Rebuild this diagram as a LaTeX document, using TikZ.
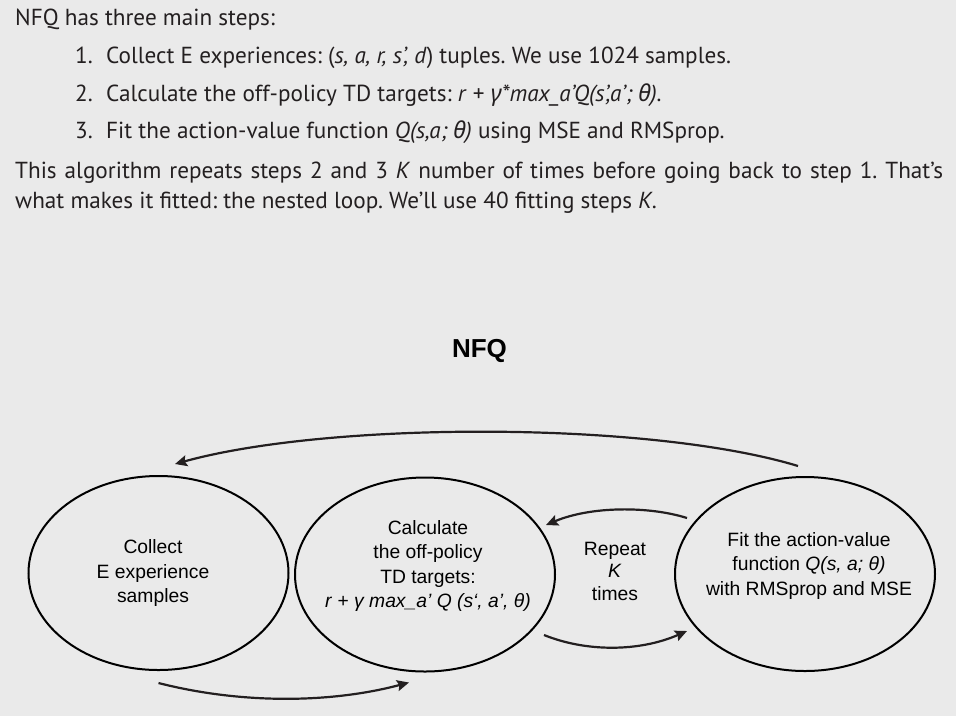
\documentclass[tikz,border=0pt]{standalone}
\usepackage{fontspec}
\setmainfont{PT Sans}
\newfontfamily\arial{Liberation Sans}
\newfontfamily\grk{Noto Sans}
\usetikzlibrary{arrows.meta,calc,shapes.geometric}
\definecolor{bg}{HTML}{EAEAEA}
\definecolor{ink}{HTML}{231F20}
\frenchspacing
\begin{document}
\begin{tikzpicture}[x=1pt,y=-1pt,
  stage/.style={draw=black, line width=2pt, ellipse, minimum width=260pt, minimum height=194pt, inner sep=0pt},
  dtext/.style={font=\arial\fontsize{19.3}{24.5}\selectfont, align=center, text=black, inner sep=0pt},
  toptext/.style={font=\fontsize{23.2}{30}\selectfont, anchor=base west, inner sep=0pt, text=ink},
  flow/.style={draw=ink, line width=2.2pt, -{Stealth[length=12pt,width=11pt,inset=2pt]}}
]
\fill[bg] (0,0) rectangle (956,716);
\useasboundingbox (0,0) rectangle (956,716);

% top text
\node[toptext] (intro) at (15,25) {NFQ has three main steps:};
\node[toptext] (n1) at (75,63) {1.};
\node[toptext] (i1) at (106,63) {Collect E experiences: (\textit{s, a, r, s’, d}) tuples. We use 1024 samples.};
\node[toptext] (n2) at (75,101) {2.};
\node[toptext] (i2) at (106,101) {Calculate the off-policy TD targets: \textit{r} + \textit{{\grk γ}*max\_a’Q(s’,a’; {\grk θ}).}};
\node[toptext] (n3) at (75,138) {3.};
\node[toptext] (i3) at (106,138) {Fit the action-value function \textit{Q(s,a; {\grk θ})} using MSE and RMSprop.};
\node[toptext, text width=928pt, align=justify] (para) at (15,178) {This algorithm repeats steps 2 and 3 \textit{K} number of times before going back to step 1. That’s\linebreak what makes it fitted: the nested loop. We’ll use 40 fitting steps \textit{K}.};

% title
\node[font=\arial\bfseries\fontsize{26}{30}\selectfont, anchor=base, inner sep=0pt] (title) at (479.5,357) {NFQ};

% stages
\node[stage] (collect) at (158.5,573) {};
\node[stage] (calc) at (425,574.5) {};
\node[stage] (fit) at (805,574) {};

\node[dtext] (collectT) at (153,573) {Collect\\E experience\\samples};
\node[dtext] (calcT) at (428,566) {Calculate\\the off-policy\\TD targets:\\\textit{r} + \textit{γ max\_a’ Q (s‘, a’, θ)}};
\node[dtext] (fitT) at (809,565.5) {Fit the action-value\\function \textit{Q(s, a; θ)}\\with RMSprop and MSE};
\node[dtext, font=\arial\fontsize{19.3}{22.5}\selectfont] (rep) at (615,571) {Repeat\\\textit{K}\\times};

% connectors
\draw[flow] ($(fit.north)+(-7,-10)$) .. controls +(-148,-45) and +(155,-43) .. ($(collect.north)+(16.5,-11)$);
\draw[flow] ($(collect.south)+(0,12)$) .. controls +(82,21) and +(-79,21) .. ($(calc.south)+(-16,10)$);
\draw[flow] ($(fit.west)+(13,-56)$) .. controls +(-38,-12) and +(45,-19) .. ($(calc.east)+(-10,-49.5)$);
\draw[flow] ($(calc.east)+(-12,60.5)$) .. controls +(42,17) and +(-48,21) .. ($(fit.west)+(13,57)$);
\end{tikzpicture}
\end{document}
